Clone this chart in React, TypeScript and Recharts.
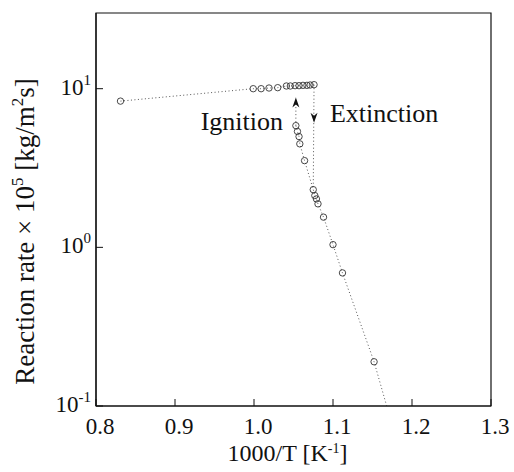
import React from 'react';
import { ComposedChart, Line, XAxis, YAxis, ReferenceArea, ReferenceDot } from 'recharts';

// Upper (burning) branch
const upperX = [0.831, 0.999, 1.009, 1.019, 1.03, 1.041, 1.046, 1.052, 1.057, 1.062, 1.067, 1.071, 1.076];
const upperY = [8.35, 10.0, 10.0, 10.1, 10.15, 10.4, 10.4, 10.45, 10.45, 10.5, 10.5, 10.55, 10.6];
// Lower (kinetic) branch
const lowerX = [1.053, 1.055, 1.057, 1.058, 1.064, 1.075, 1.077, 1.079, 1.081, 1.088, 1.1, 1.112, 1.152, 1.172];
const lowerY = [5.85, 5.38, 4.99, 4.49, 3.52, 2.31, 2.12, 2.02, 1.88, 1.55, 1.04, 0.69, 0.19, 0.085];
// Extinction drop
const extinctionX = [1.076, 1.075];
const extinctionY = [10.6, 2.31];
// Ignition jump
const ignitionX = [1.053, 1.053];
const ignitionY = [5.85, 8.8];

const xTicks = [0.8, 0.9, 1.0, 1.1, 1.2, 1.3];
const yTicks = [0.1, 1, 10];
const yTickExp = ['-1', '0', '1'];

const zip = (xs: number[], ys: number[]) => xs.map((x, i) => ({ x, y: ys[i] }));
const upper = zip(upperX, upperY);
const lower = zip(lowerX, lowerY);
const extinction = zip(extinctionX, extinctionY);
const ignition = zip(ignitionX, ignitionY);

const FONT = "'Liberation Serif', 'DejaVu Serif', serif";
const LINE = '#555';
const TXT = { fontFamily: FONT, fill: '#111' } as React.CSSProperties;

const OpenDot = (props: any) => {
  const { cx, cy, index, payload } = props;
  if (payload == null || payload.y < 0.1 || cx == null || cy == null) return <g key={'d' + index} />;
  return <circle key={'d' + index} cx={cx} cy={cy} r={3.2} fill="none" stroke="#333" strokeWidth={0.9} />;
};

const XTick = (props: any) => {
  const { x, y, payload } = props;
  return (
    <text x={x + 4} y={y} dy={15} textAnchor="middle" style={{ ...TXT, fontSize: 23 }}>
      {Number(payload.value).toFixed(1)}
    </text>
  );
};

const YTick = (props: any) => {
  const { x, y, payload } = props;
  const i = yTicks.indexOf(payload.value);
  return (
    <text x={x} y={y} dy={6} textAnchor="end" style={{ ...TXT, fontSize: 23 }}>
      <tspan>10</tspan>
      <tspan dy={-10} style={{ fontSize: 15 }}>{yTickExp[i]}</tspan>
    </text>
  );
};

const XTitle = (props: any) => {
  const vb = props.viewBox;
  return (
    <text x={vb.x + vb.width / 2 - 6} y={vb.y + 55} textAnchor="middle" style={{ ...TXT, fontSize: 24 }}>
      <tspan>1000/T [K</tspan>
      <tspan dy={-8} style={{ fontSize: 14 }}>-1</tspan>
      <tspan dy={8}>]</tspan>
    </text>
  );
};

const YTitle = (props: any) => {
  const vb = props.viewBox;
  const cx = 34;
  const cy = vb.y + vb.height / 2 + 22;
  return (
    <text x={cx} y={cy} transform={`rotate(-90 ${cx} ${cy})`} textAnchor="middle" style={{ ...TXT, fontSize: 27 }}>
      <tspan>Reaction rate × 10</tspan>
      <tspan dy={-11} style={{ fontSize: 17 }}>5</tspan>
      <tspan dy={11}> [kg/m</tspan>
      <tspan dy={-11} style={{ fontSize: 17 }}>2</tspan>
      <tspan dy={11}>s]</tspan>
    </text>
  );
};

const ArrowUp = (props: any) => {
  const { cx, cy } = props;
  return <path d={`M${cx},${cy} L${cx - 3.5},${cy + 10} L${cx},${cy + 7} L${cx + 3.5},${cy + 10} Z`} fill="#111" />;
};
const ArrowDown = (props: any) => {
  const { cx, cy } = props;
  return <path d={`M${cx},${cy} L${cx - 3.5},${cy - 10} L${cx},${cy - 7} L${cx + 3.5},${cy - 10} Z`} fill="#111" />;
};
const Label = (text: string, anchor: 'start' | 'end') => (props: any) => {
  const { cx, cy } = props;
  return (
    <text x={cx} y={cy} textAnchor={anchor} style={{ ...TXT, fontSize: 26 }}>
      {text}
    </text>
  );
};

export default function App() {
  return (
    <div style={{ position: 'absolute', left: 0, top: 0, background: '#fff' }}>
      <ComposedChart width={514} height={472} margin={{ top: 13, right: 23, left: 0, bottom: 0 }}>
        <XAxis
          type="number"
          dataKey="x"
          domain={[0.8, 1.3]}
          ticks={xTicks}
          allowDataOverflow
          height={66}
          tickSize={-7}
          tickMargin={20}
          tick={<XTick />}
          axisLine={{ stroke: '#111', strokeWidth: 1.2 }}
          tickLine={{ stroke: '#111', strokeWidth: 1 }}
          label={<XTitle />}
        />
        <YAxis
          type="number"
          dataKey="y"
          scale="log"
          domain={[0.1, 30]}
          ticks={yTicks}
          allowDataOverflow
          width={96}
          tickSize={-7}
          tickMargin={12}
          tick={<YTick />}
          axisLine={{ stroke: '#111', strokeWidth: 1.2 }}
          tickLine={{ stroke: '#111', strokeWidth: 1 }}
          label={<YTitle />}
        />
        <ReferenceArea x1={0.8} x2={1.3} y1={0.1} y2={30} fill="none" stroke="#111" strokeWidth={1.2} />
        <Line data={upper} dataKey="y" stroke={LINE} strokeWidth={1} strokeDasharray="1 2.5" dot={OpenDot} isAnimationActive={false} />
        <Line data={lower} dataKey="y" stroke={LINE} strokeWidth={1} strokeDasharray="1 2.5" dot={OpenDot} isAnimationActive={false} />
        <Line data={extinction} dataKey="y" stroke={LINE} strokeWidth={1} strokeDasharray="1 2.5" dot={false} isAnimationActive={false} />
        <Line data={ignition} dataKey="y" stroke={LINE} strokeWidth={1} strokeDasharray="1 2.5" dot={false} isAnimationActive={false} />
        <ReferenceDot x={1.053} y={8.8} r={0} shape={<ArrowUp />} />
        <ReferenceDot x={1.076} y={6.1} r={0} shape={<ArrowDown />} />
        <ReferenceDot x={1.0367} y={5.48} r={0} shape={Label('Ignition', 'end')} />
        <ReferenceDot x={1.0962} y={6.16} r={0} shape={Label('Extinction', 'start')} />
      </ComposedChart>
    </div>
  );
}
